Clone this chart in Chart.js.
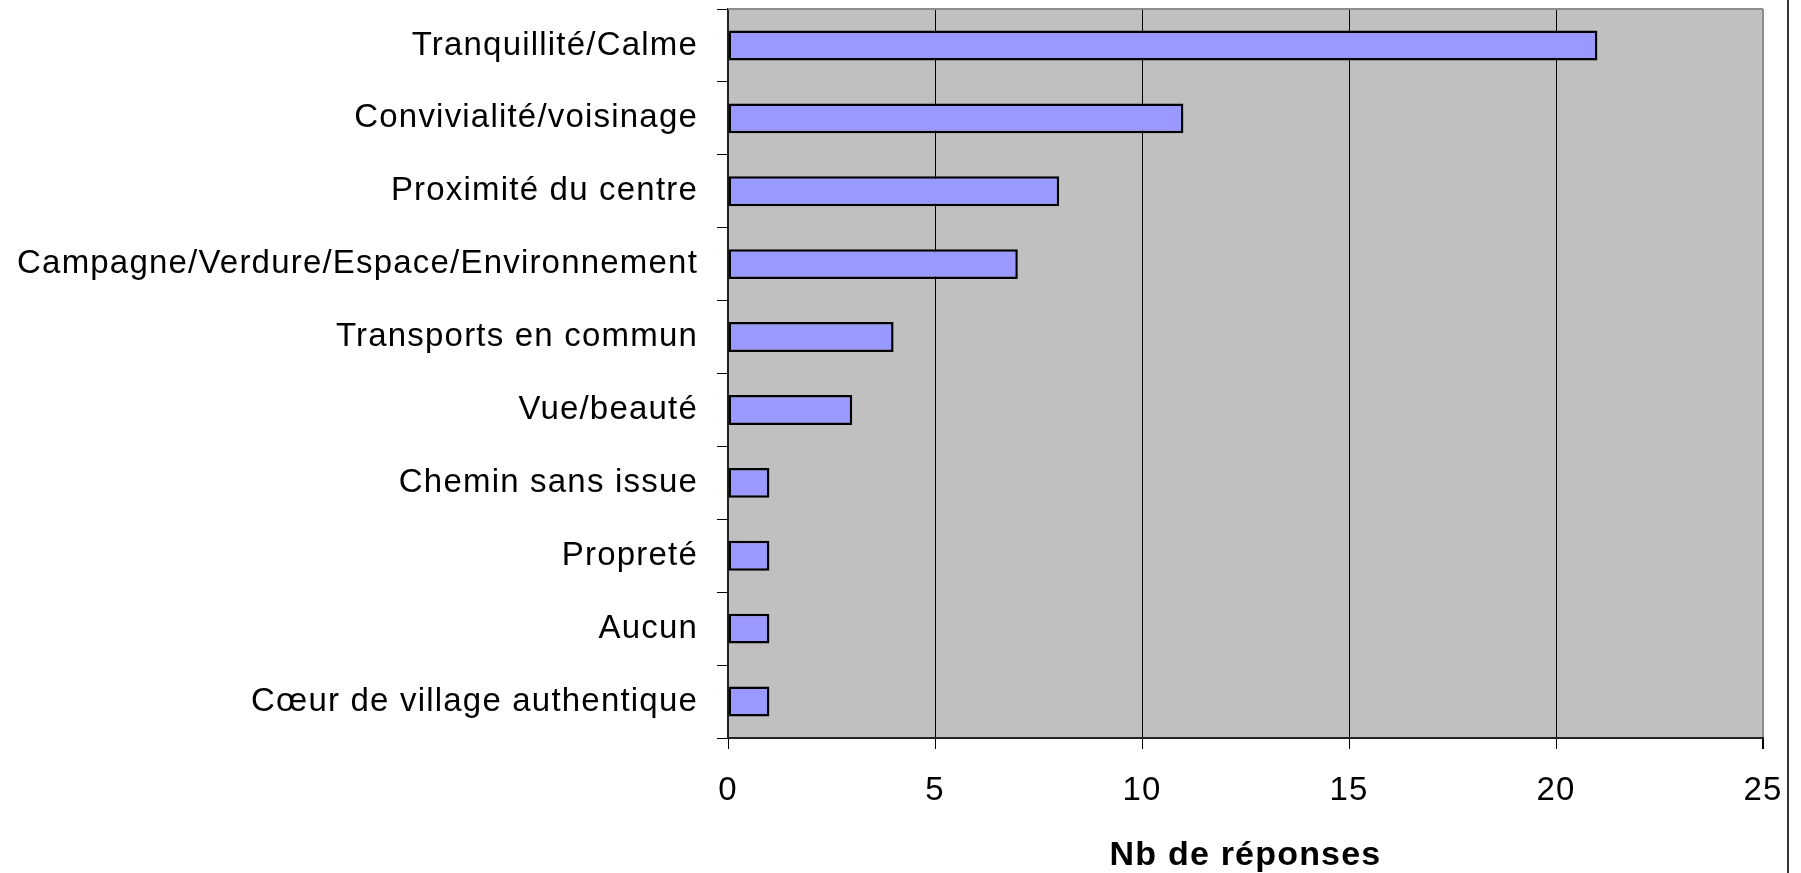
<!DOCTYPE html>
<html>
<head>
<meta charset="utf-8">
<script src="https://cdn.jsdelivr.net/npm/chart.js"></script>
<style>
    body { margin: 0; background: #fff; }
</style>
</head>
<body>
<canvas id="myChart" width="1801" height="873"></canvas>
<script>
const labels = [
    'Tranquillité/Calme',
    'Convivialité/voisinage',
    'Proximité du centre',
    'Campagne/Verdure/Espace/Environnement',
    'Transports en commun',
    'Vue/beauté',
    'Chemin sans issue',
    'Propreté',
    'Aucun',
    'Cœur de village authentique'
]
const responses = [21, 11, 8, 7, 4, 3, 1, 1, 1, 1]
const xTicks = [0, 5, 10, 15, 20, 25]
const axisTitle = 'Nb de réponses'

const fontFamily = "'Liberation Sans', Arial, sans-serif"

// grey plot background, grey top border and the frame line on the right
const plotFrame = {
    id: 'plotFrame',
    beforeDraw(chart) {
        const { ctx, chartArea: a } = chart
        ctx.letterSpacing = '1.2px'
        ctx.save()
        ctx.fillStyle = '#c0c0c0'
        ctx.fillRect(a.left, a.top, a.right - a.left, a.bottom - a.top)
        ctx.restore()
    },
    beforeDatasetsDraw(chart) {
        const { ctx, chartArea: a } = chart
        ctx.save()
        ctx.strokeStyle = '#8c8c8c'
        ctx.lineWidth = 2
        ctx.beginPath()
        ctx.moveTo(a.left, a.top)
        ctx.lineTo(a.right, a.top)
        ctx.stroke()
        ctx.restore()
    },
    afterDraw(chart) {
        const ctx = chart.ctx
        ctx.save()
        ctx.strokeStyle = '#333'
        ctx.lineWidth = 2
        ctx.beginPath()
        ctx.moveTo(1788, 0)
        ctx.lineTo(1788, chart.height)
        ctx.stroke()
        ctx.restore()
    }
}

const data = {
    labels: labels,
    datasets: [{
        label: axisTitle,
        data: responses,
        backgroundColor: '#9999ff',
        borderColor: '#000',
        borderWidth: 2.5,
        borderSkipped: false,
        categoryPercentage: 1,
        barPercentage: 0.41
    }]
}

const config = {
    type: 'bar',
    data: data,
    plugins: [plotFrame],
    options: {
        indexAxis: 'y',
        responsive: false,
        animation: false,
        layout: { padding: { top: 9, right: 38, left: 0, bottom: 0 } },
        plugins: {
            legend: { display: false },
            tooltip: { enabled: false }
        },
        scales: {
            x: {
                min: xTicks[0],
                max: xTicks[xTicks.length - 1],
                afterFit: (scale) => {
                    scale.height = 135
                    scale.paddingLeft = 0
                    scale.paddingRight = 0
                },
                afterBuildTicks: (scale) => { scale.ticks = xTicks.map(v => ({ value: v })) },
                grid: {
                    color: (c) => c.tick && c.tick.value === 25 ? '#8c8c8c' : '#000',
                    lineWidth: (c) => c.tick && c.tick.value === 25 ? 2 : 1,
                    tickColor: '#000',
                    tickLength: 11
                },
                border: { color: '#222', width: 2 },
                ticks: {
                    color: '#000',
                    padding: 22,
                    font: { family: fontFamily, size: 33 }
                },
                title: {
                    display: true,
                    text: axisTitle,
                    color: '#000',
                    padding: { top: 0, bottom: 0 },
                    font: { family: fontFamily, size: 34, weight: 'bold', lineHeight: 1 }
                }
            },
            y: {
                afterFit: (scale) => {
                    scale.width = 728
                    scale.paddingTop = 0
                    scale.paddingBottom = 0
                },
                grid: {
                    drawOnChartArea: false,
                    offset: true,
                    color: '#000',
                    tickLength: 11
                },
                border: { color: '#222', width: 2 },
                ticks: {
                    color: '#000',
                    padding: 19,
                    font: { family: fontFamily, size: 33 }
                }
            }
        }
    }
}

const myChart = new Chart(document.getElementById('myChart'), config)
</script>
</body>
</html>
